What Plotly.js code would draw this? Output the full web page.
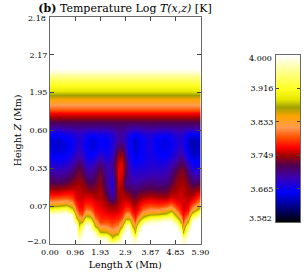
<!DOCTYPE html>
<html><head><meta charset="utf-8">
<script src="https://cdn.plot.ly/plotly-3.0.1.min.js"></script>
<style>html,body{margin:0;padding:0;background:#fff}</style></head>
<body><div id="chart" style="width:306px;height:278px"></div>
<script>
const lengthMm=[0,.31,.62,.85,1.0,1.12,1.24,1.39,1.55,1.74,1.93,2.17,2.40,2.63,2.78,2.94,3.05,3.17,3.29,3.40,3.6,3.87,4.18,4.49,4.68,4.87,5.03,5.14,5.3,5.49,5.8];
const heightSteps=[0,.159,.317,.476,.582,.687,.793,.899,1.004,1.11,1.216,1.322,1.48,1.639,1.798,1.956,2.115,2.273,2.432,2.59,2.749,2.908,3.066,3.225,3.357,3.463,3.542,3.674,3.806,3.859,3.939,4.018,4.124,4.203,4.335,4.441,4.547,4.652,6];
const upperAtmosphere=[3.725,3.75,3.77,3.795,3.82,3.845,3.855,3.87,3.885,3.905,3.916,3.94,3.96,3.985,4,4];
const lowerColumns=[
[4,4,4,4,4,4,3.99,3.93,3.865,3.82,3.79,3.77,3.745,3.725,3.71,3.695,3.68,3.665,3.655,3.65,3.65,3.665,3.70],
[4,4,4,4,4,4,3.995,3.945,3.87,3.825,3.795,3.77,3.745,3.72,3.705,3.69,3.675,3.66,3.65,3.645,3.645,3.66,3.695],
[4,4,4,4,4,4,4,3.96,3.885,3.83,3.80,3.775,3.75,3.725,3.71,3.695,3.68,3.665,3.655,3.65,3.655,3.67,3.70],
[4,4,4,4,4,4,3.98,3.90,3.85,3.815,3.79,3.775,3.755,3.74,3.725,3.71,3.695,3.68,3.67,3.665,3.665,3.675,3.70],
[4,4,4,4,3.96,3.885,3.84,3.81,3.79,3.775,3.765,3.76,3.755,3.745,3.735,3.725,3.71,3.695,3.685,3.675,3.675,3.68,3.705],
[4,3.975,3.93,3.885,3.86,3.83,3.80,3.78,3.77,3.765,3.76,3.76,3.755,3.75,3.74,3.735,3.72,3.70,3.69,3.685,3.68,3.685,3.705],
[4,4,3.985,3.945,3.87,3.825,3.79,3.775,3.77,3.765,3.76,3.755,3.75,3.745,3.735,3.725,3.71,3.695,3.685,3.675,3.675,3.68,3.70],
[4,4,4,4,3.965,3.90,3.85,3.81,3.79,3.775,3.765,3.755,3.745,3.73,3.715,3.70,3.685,3.67,3.665,3.66,3.665,3.675,3.70],
[4,4,4,3.99,3.95,3.885,3.84,3.805,3.785,3.775,3.765,3.755,3.735,3.72,3.705,3.695,3.68,3.665,3.655,3.65,3.65,3.665,3.70],
[4,4,3.975,3.87,3.835,3.805,3.785,3.775,3.77,3.765,3.755,3.75,3.74,3.73,3.72,3.71,3.695,3.675,3.66,3.65,3.65,3.665,3.70],
[4,3.985,3.87,3.82,3.79,3.78,3.775,3.77,3.765,3.76,3.755,3.755,3.75,3.745,3.74,3.73,3.715,3.695,3.675,3.665,3.66,3.67,3.70],
[4,3.98,3.865,3.815,3.795,3.78,3.77,3.76,3.755,3.75,3.74,3.73,3.72,3.71,3.705,3.70,3.69,3.675,3.665,3.66,3.66,3.67,3.70],
[3.985,3.885,3.83,3.80,3.785,3.775,3.765,3.755,3.745,3.725,3.70,3.69,3.68,3.675,3.685,3.695,3.70,3.69,3.68,3.675,3.675,3.68,3.705],
[4,3.93,3.85,3.815,3.795,3.78,3.77,3.76,3.755,3.75,3.75,3.75,3.755,3.76,3.765,3.765,3.76,3.75,3.735,3.715,3.70,3.70,3.71],
[4,4,3.96,3.86,3.825,3.795,3.78,3.77,3.765,3.76,3.755,3.755,3.75,3.755,3.76,3.765,3.765,3.755,3.74,3.72,3.70,3.70,3.71],
[4,4,4,3.985,3.915,3.86,3.82,3.79,3.775,3.765,3.755,3.745,3.72,3.70,3.715,3.72,3.72,3.71,3.695,3.685,3.68,3.685,3.705],
[4,4,4,3.98,3.915,3.855,3.82,3.79,3.775,3.76,3.75,3.74,3.72,3.705,3.70,3.695,3.685,3.675,3.67,3.665,3.665,3.675,3.70],
[4,3.99,3.95,3.88,3.84,3.81,3.785,3.77,3.76,3.75,3.74,3.73,3.715,3.70,3.69,3.68,3.67,3.66,3.655,3.65,3.65,3.665,3.70],
[3.99,3.96,3.87,3.83,3.80,3.78,3.77,3.76,3.755,3.745,3.735,3.725,3.71,3.695,3.685,3.675,3.665,3.655,3.65,3.645,3.645,3.66,3.695],
[4,4,3.985,3.93,3.865,3.825,3.79,3.775,3.765,3.755,3.745,3.735,3.715,3.70,3.69,3.68,3.67,3.66,3.655,3.65,3.65,3.665,3.70],
[4,4,4,4,3.96,3.885,3.84,3.805,3.785,3.77,3.755,3.74,3.72,3.705,3.69,3.68,3.67,3.665,3.665,3.665,3.665,3.675,3.70],
[4,4,4,4,3.985,3.93,3.86,3.82,3.795,3.775,3.76,3.745,3.725,3.71,3.695,3.685,3.68,3.675,3.675,3.675,3.675,3.68,3.705],
[4,4,4,4,3.99,3.94,3.865,3.82,3.79,3.77,3.755,3.74,3.72,3.705,3.695,3.685,3.675,3.665,3.66,3.655,3.655,3.67,3.70],
[4,4,4,4,4,3.96,3.885,3.84,3.80,3.775,3.755,3.74,3.725,3.71,3.70,3.69,3.68,3.665,3.655,3.65,3.65,3.665,3.70],
[4,4,4,4,3.995,3.96,3.915,3.86,3.815,3.785,3.765,3.755,3.74,3.725,3.715,3.705,3.695,3.68,3.67,3.665,3.665,3.675,3.70],
[4,4,4,4,3.96,3.90,3.85,3.81,3.785,3.77,3.76,3.755,3.75,3.745,3.735,3.725,3.705,3.69,3.68,3.675,3.675,3.68,3.705],
[4,4,3.985,3.915,3.865,3.825,3.79,3.775,3.77,3.765,3.76,3.76,3.755,3.75,3.745,3.74,3.725,3.71,3.695,3.685,3.68,3.685,3.705],
[3.99,3.96,3.87,3.82,3.795,3.78,3.77,3.765,3.76,3.76,3.76,3.755,3.755,3.75,3.745,3.74,3.72,3.70,3.685,3.675,3.675,3.68,3.70],
[4,4,3.99,3.945,3.875,3.83,3.795,3.775,3.765,3.76,3.755,3.75,3.745,3.735,3.725,3.71,3.69,3.67,3.655,3.645,3.645,3.66,3.70],
[4,4,4,4,4,3.96,3.89,3.83,3.80,3.775,3.76,3.75,3.735,3.715,3.70,3.68,3.665,3.65,3.64,3.635,3.635,3.655,3.70],
[4,4,4,4,4,4,3.985,3.915,3.86,3.82,3.795,3.775,3.745,3.72,3.70,3.68,3.665,3.655,3.645,3.645,3.65,3.665,3.70]
];
const colorLevels=[3.582,3.62,3.66,3.695,3.725,3.75,3.77,3.795,3.82,3.848,3.87,3.89,3.916,3.96,4.0];
const colorHex=['#000000','#000080','#0000ff','#3c00b0','#500050','#a00000','#ff0000','#ff5000','#ff9a50','#ffa500','#a0a000','#e6e600','#ffff20','#ffff90','#ffffff'];
const xTickVals=[0,.967,1.933,2.9,3.867,4.833,5.8];
const xTickText=['0.00','0.96','1.93','2.9','3.87','4.83','5.90'];
const yTickVals=[0,1,2,3,4,5,6];
const yTickText=['','0.07','0.33','0.60','1.95','2.17',''];
const barTickVals=[3.582,3.665,3.749,3.833,3.916,4.0];
const barTickText=['','3.665','3.749','3.833','3.916',''];

const W=306,H=278,zMin=3.582,zMax=4.0;
const scale=colorLevels.map((v,i)=>[(v-zMin)/(zMax-zMin),colorHex[i]]);
const font={family:'"DejaVu Serif",serif',size:8,color:'#000'};
const titleFont={family:'"DejaVu Serif",serif',size:9.5,color:'#000'};
const axisBase={showgrid:false,zeroline:false,ticks:'inside',ticklen:4,tickwidth:1,tickcolor:'#444',showline:true,linecolor:'#6a6a6a',linewidth:1,mirror:'ticks',tickfont:font};
const traces=[
 {type:'heatmap',x:lengthMm,y:heightSteps,z:lowerColumns.map(c=>c.concat(upperAtmosphere)),transpose:true,zsmooth:'best',colorscale:scale,zmin:zMin,zmax:zMax,showscale:false,xaxis:'x',yaxis:'y'},
 {type:'heatmap',x:[0,1],y:colorLevels,z:colorLevels.map(v=>[v,v]),zsmooth:'best',colorscale:scale,zmin:zMin,zmax:zMax,showscale:false,xaxis:'x2',yaxis:'y2'}
];
const endLabel=(text,xref,yref,y,shift)=>({text,xref,yref,x:0,y,xanchor:'right',yanchor:'middle',xshift:-2,yshift:shift,showarrow:false,font});
const layout={width:W,height:H,margin:{l:0,r:0,t:0,b:0},paper_bgcolor:'#fff',plot_bgcolor:'#fff',showlegend:false,
 title:{text:'<b>(b)</b> Temperature Log <i>T(x,z)</i> [K]',font:{family:'"DejaVu Serif",serif',size:11,color:'#000'},x:125/W,xanchor:'center',y:1-8/H,yanchor:'middle'},
 xaxis:Object.assign({},axisBase,{domain:[50/W,200.5/W],range:[0,5.8],tickmode:'array',tickvals:xTickVals,ticktext:xTickText,anchor:'y',title:{text:'Length <i>X</i> (Mm)',font:titleFont,standoff:5}}),
 yaxis:Object.assign({},axisBase,{domain:[1-244/H,1-17/H],range:[0,6],tickmode:'array',tickvals:yTickVals,ticktext:yTickText,anchor:'x',title:{text:'Height <i>Z</i> (Mm)',font:titleFont,standoff:6}}),
 xaxis2:Object.assign({},axisBase,{domain:[276/W,300/W],range:[0,1],ticks:'',showticklabels:false,anchor:'y2'}),
 yaxis2:Object.assign({},axisBase,{domain:[1-222/H,1-55/H],range:[zMin,zMax],tickmode:'array',tickvals:barTickVals,ticktext:barTickText,anchor:'x2',side:'left',ticklen:3}),
 annotations:[endLabel('2.18','x domain','y',6,-2),endLabel('−2.0','x domain','y',0,3),endLabel('4.000','x2 domain','y2',4.0,-3),endLabel('3.582','x2 domain','y2',3.582,4)]
};
Plotly.newPlot('chart',traces,layout,{displayModeBar:false,staticPlot:true});
</script></body></html>
